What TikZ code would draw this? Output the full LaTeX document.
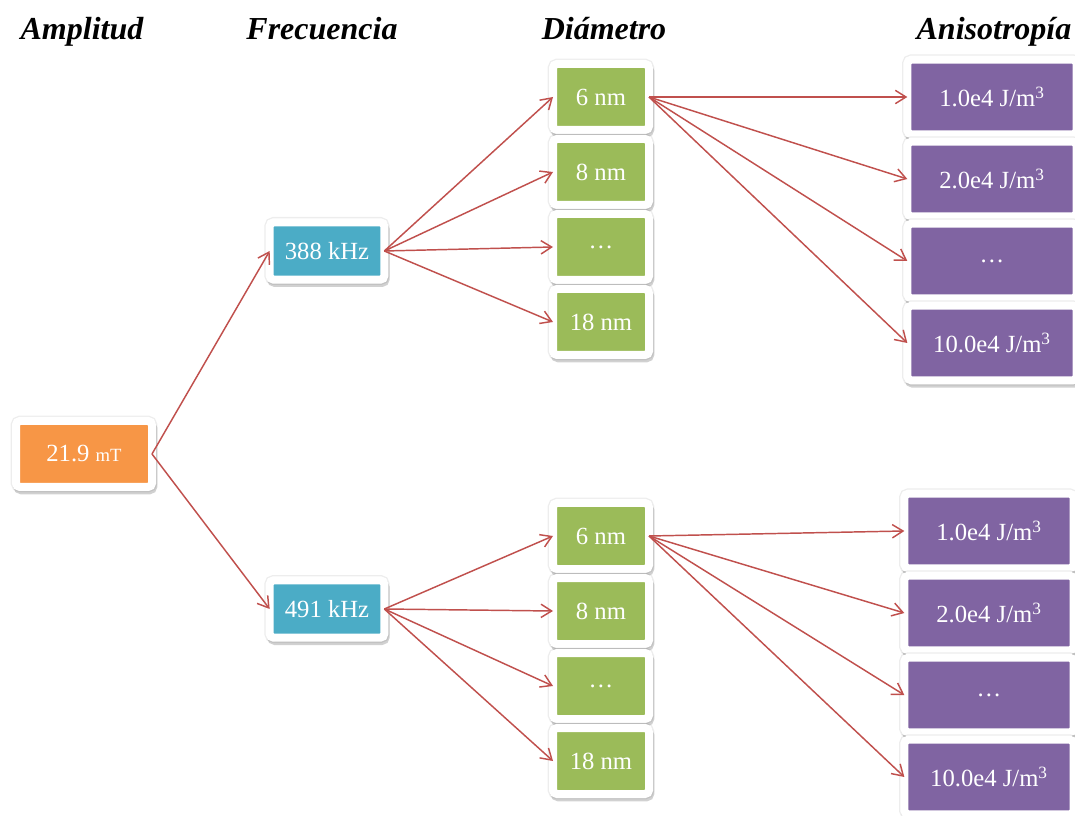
\documentclass[tikz,border=0pt]{standalone}
\usepackage{fontspec}
\setmainfont{Liberation Serif}
\usetikzlibrary{arrows.meta,positioning,shadows}

\definecolor{ampcol}{HTML}{F79646}
\definecolor{freqcol}{HTML}{4BACC6}
\definecolor{diamcol}{HTML}{9BBB59}
\definecolor{anicol}{HTML}{8064A2}
\definecolor{linkcol}{HTML}{C0504D}

\begin{document}
\begin{tikzpicture}[x=0.75pt,y=-0.75pt]
        \tikzstyle{item}
	  =[draw=white, line width=6pt, rounded corners=3pt, outer sep=0pt,
	  text=white, font=\fontsize{18.5}{21}\selectfont, align=center,
	  general shadow={fill=black, draw=black, line width=8pt, opacity=0.07},
	  general shadow={fill=black, draw=black, line width=6pt, opacity=0.18,
	    shadow xshift=1pt, shadow yshift=-2.5pt}]
        \tikzstyle{amp}=[item, fill=ampcol, minimum width=102pt, minimum height=49.5pt]
        \tikzstyle{freq}=[item, fill=freqcol, minimum width=86pt, minimum height=43pt]
        \tikzstyle{diam}=[item, fill=diamcol, minimum width=72pt, minimum height=49.5pt]
        \tikzstyle{ani}=[item, fill=anicol, minimum width=127pt, minimum height=56pt]
        \tikzstyle{head}=[anchor=base, font=\fontsize{24}{28}\selectfont\bfseries\itshape]
        \tikzstyle{link}=[draw=linkcol, line width=1.1pt,
	  -{Straight Barb[length=8pt,width=10pt]}]

	\useasboundingbox (0,0) rectangle (1075,816);
	\clip (0,0) rectangle (1075,816);

	% column titles
	\node[head] (hA) at (82,40) {Amplitud};
	\node[head] (hF) at (322,40) {Frecuencia};
	\node[head] (hD) at (604,40) {Diámetro};
	\node[head] (hK) at (994,40) {Anisotropía};

	% amplitude and frequencies
	\node[amp] (A) at (84,454) {21.9 {\fontsize{14}{16}\selectfont mT}};
	\node[freq] (F1) at (327,251) {388 kHz};
	\node[freq] (F2) at (327,609) {491 kHz};

	% diameters
	\node[diam] (D1) at (601,97) {6 nm};
	\node[diam] (D2)
	  [below=6.75pt of D1] {8 nm};
	\node[diam] (D3)
	  [below=6.75pt of D2] {…};
	\node[diam] (D4)
	  [below=6.75pt of D3] {18 nm};
	\node[diam] (E1) at (601,536) {6 nm};
	\node[diam] (E2)
	  [below=6.75pt of E1] {8 nm};
	\node[diam] (E3)
	  [below=6.75pt of E2] {…};
	\node[diam] (E4)
	  [below=6.75pt of E3] {18 nm};

	% anisotropies
	\node[ani] (K1) at (992,97) {1.0e4 J/m\textsuperscript{3}};
	\node[ani] (K2)
	  [below=5.5pt of K1] {2.0e4 J/m\textsuperscript{3}};
	\node[ani] (K3)
	  [below=5.5pt of K2] {…};
	\node[ani] (K4)
	  [below=5.5pt of K3] {10.0e4 J/m\textsuperscript{3}};
	\node[ani] (L1) at (989,531) {1.0e4 J/m\textsuperscript{3}};
	\node[ani] (L2)
	  [below=5.5pt of L1] {2.0e4 J/m\textsuperscript{3}};
	\node[ani] (L3)
	  [below=5.5pt of L2] {…};
	\node[ani] (L4)
	  [below=5.5pt of L3] {10.0e4 J/m\textsuperscript{3}};

	% connectors
	\draw[link] (A.east) -- (F1.west);
	\draw[link] (A.east) -- (F2.west);
	\foreach \t in {D1,D2,D3,D4}
	  \draw[link] (F1.east) -- (\t.west);
	\foreach \t in {E1,E2,E3,E4}
	  \draw[link] (F2.east) -- (\t.west);
	\foreach \t in {K1,K2,K3,K4}
	  \draw[link] (D1.east) -- (\t.west);
	\foreach \t in {L1,L2,L3,L4}
	  \draw[link] (E1.east) -- (\t.west);
    \end{tikzpicture}
\end{document}
